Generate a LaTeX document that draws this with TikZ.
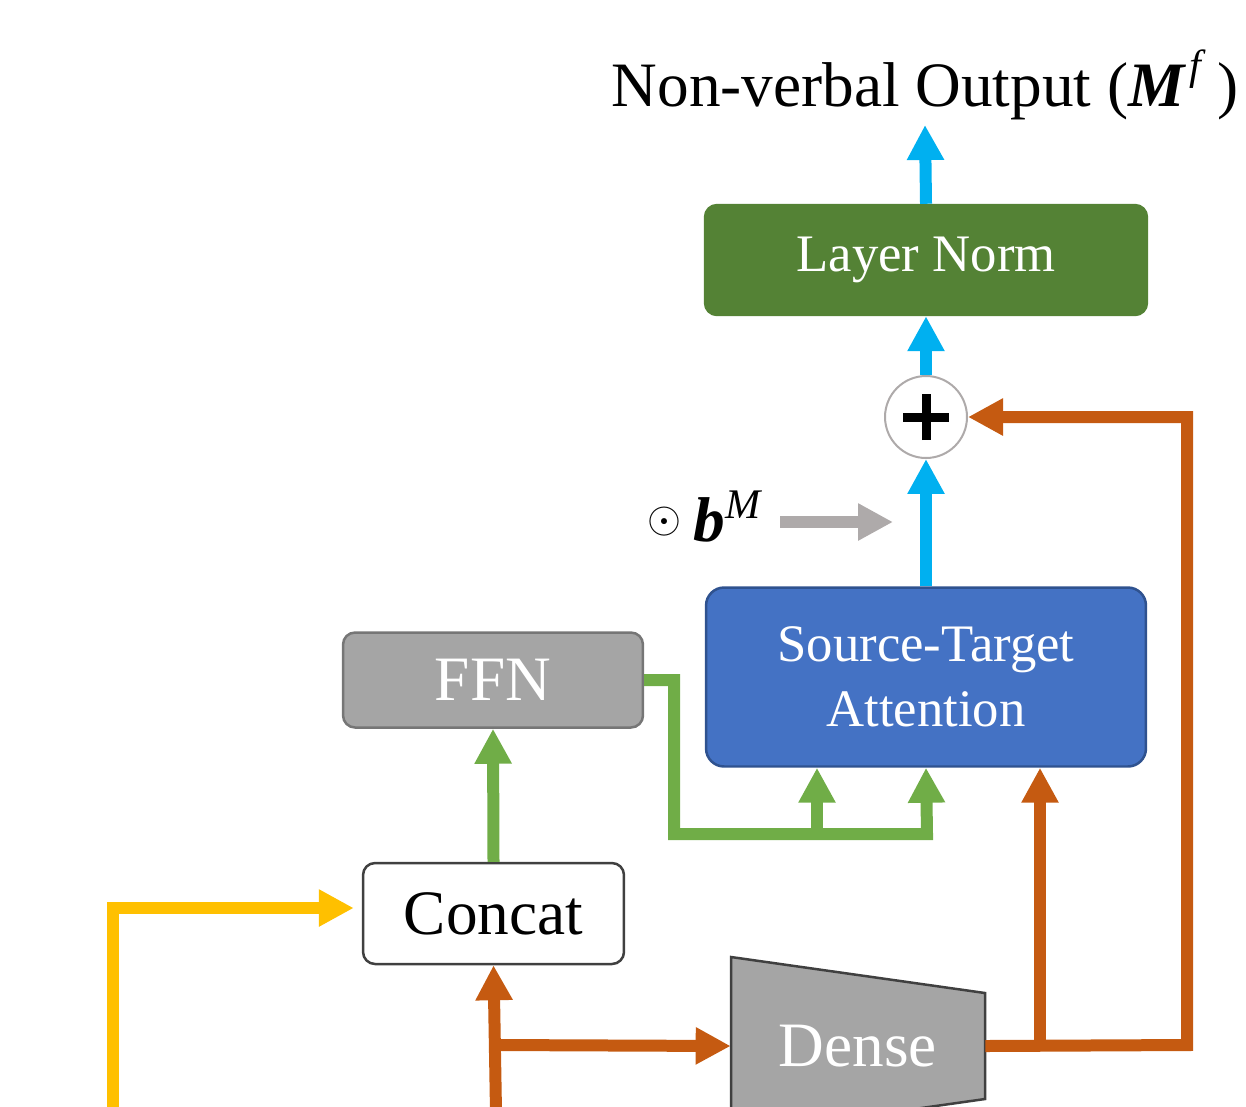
\documentclass[tikz,border=0pt]{standalone}
\usepackage{fontspec}
\setmainfont{Liberation Serif}
\usetikzlibrary{arrows.meta,positioning,calc}
\definecolor{nvnorm}{HTML}{548235}
\definecolor{nvattn}{HTML}{4472C4}
\definecolor{nvattnedge}{HTML}{2F528F}
\definecolor{nvgray}{HTML}{A5A5A5}
\definecolor{nvgrayedge}{HTML}{767676}
\definecolor{nvdark}{HTML}{404040}
\definecolor{nvsky}{HTML}{00B0F0}
\definecolor{nvleaf}{HTML}{70AD47}
\definecolor{nvrust}{HTML}{C55A11}
\definecolor{nvgold}{HTML}{FFC000}
\definecolor{nvgate}{HTML}{AEAAAA}
\tikzset{
  nvbox/.style={rounded corners=0.24cm, line width=0.05cm, align=center, inner sep=0pt},
  nvnormbox/.style={nvbox, draw=nvnorm, fill=nvnorm, text=white,
    minimum width=8.84cm, minimum height=2.2cm, font=\fontsize{30}{36}\selectfont},
  nvattnbox/.style={nvbox, rounded corners=0.36cm, draw=nvattnedge, fill=nvattn, text=white,
    minimum width=8.8cm, minimum height=3.58cm, font=\fontsize{30}{37}\selectfont},
  nvffnbox/.style={nvbox, draw=nvgrayedge, fill=nvgray, text=white,
    minimum width=6.0cm, minimum height=1.9cm, font=\fontsize{36}{40}\selectfont},
  nvcatbox/.style={nvbox, draw=nvdark, fill=white,
    minimum width=5.22cm, minimum height=2.02cm, font=\fontsize{36}{40}\selectfont},
  nvsum/.style={circle, draw=nvgate, fill=white, line width=0.04cm, minimum size=1.64cm, inner sep=0pt},
  nvbar/.style={line width=0.18cm, black},
  nvflow/.style={-{Triangle[length=0.7cm,width=0.7cm]}, line width=0.24cm},
  nvskyflow/.style={nvflow, draw=nvsky},
  nvleafflow/.style={nvflow, draw=nvleaf},
  nvrustflow/.style={nvflow, draw=nvrust},
  nvgoldflow/.style={nvflow, draw=nvgold},
  nvgateflow/.style={nvflow, draw=nvgate}
}
\begin{document}
\begin{tikzpicture}[x=0.02cm, y=-0.02cm]
\useasboundingbox (0,0) rectangle (1246,1106);
% blocks
\node[anchor=base, font=\fontsize{36}{43}\selectfont] (title) at (925,106)
  {Non-verbal Output ({\bfseries\itshape M}\kern3pt\raisebox{15pt}{\fontsize{24}{26}\selectfont\itshape f}\kern9pt)};
\coordinate (out) at (925,125);
\node[nvnormbox] (norm) at (926,260) {Layer Norm};
\node[nvsum] (plus) at (926,417) {};
\draw[nvbar] ([xshift=-0.46cm]plus.center) -- ([xshift=0.46cm]plus.center);
\draw[nvbar] ([yshift=-0.46cm]plus.center) -- ([yshift=0.46cm]plus.center);
\node[nvattnbox] (sta) at (926,677) {Source-Target\\Attention};
\node[nvffnbox] (ffn) at (493,680) {FFN};
\node[nvcatbox] (concat) at (493.5,913.5) {Concat};
\node[anchor=base west, font=\fontsize{36}{40}\selectfont] (bm) at (641,541)
  {\raisebox{5pt}{\fontsize{30}{32}\selectfont$\odot$}\kern7pt{\bfseries\itshape b}\raisebox{13pt}{\fontsize{24}{26}\selectfont\itshape M}};
\coordinate (gate) at (893,522);
% dense layer is a trapezium cut off by the page edge
\fill[nvgray, draw=nvdark, line width=0.05cm] (731,957) -- (985,993) -- (985,1099) -- (731,1135) -- cycle;
\node[minimum width=5.08cm, minimum height=1.8cm, inner sep=0pt, text=white,
  font=\fontsize{36}{40}\selectfont] (dense) at (858,1046) {Dense};
\coordinate (goldin) at (113,1112);
\coordinate (rustin) at (496,1112);
% connectors
\draw[nvskyflow] (norm.north) -- (out);
\draw[nvskyflow] (plus.north) -- (norm.south);
\draw[nvskyflow] (sta.north) -- (plus.south);
\draw[nvgateflow] (780,522) -- (gate);
\draw[nvleafflow] (concat.north) -- (ffn.south);
\draw[nvleafflow] (ffn.east) -- (674,680) -- (674,834) -- (927,834) -- (sta.south);
\draw[nvleafflow] (817,834) -- ($(sta.south)+(-109,0)$);
\draw[nvgoldflow, shorten >=0.16cm] (goldin) -- (113,908) -- (concat.west |- 0,908);
\draw[nvrustflow] (rustin) -- (concat.south);
\draw[nvrustflow] (496,1045) -- (dense.west);
\draw[nvrustflow] (dense.east) -- (1187,1045) -- (1187,417) -- (plus.east);
\draw[nvrustflow] (1040,1045) -- ($(sta.south)+(114,0)$);
\end{tikzpicture}
\end{document}
